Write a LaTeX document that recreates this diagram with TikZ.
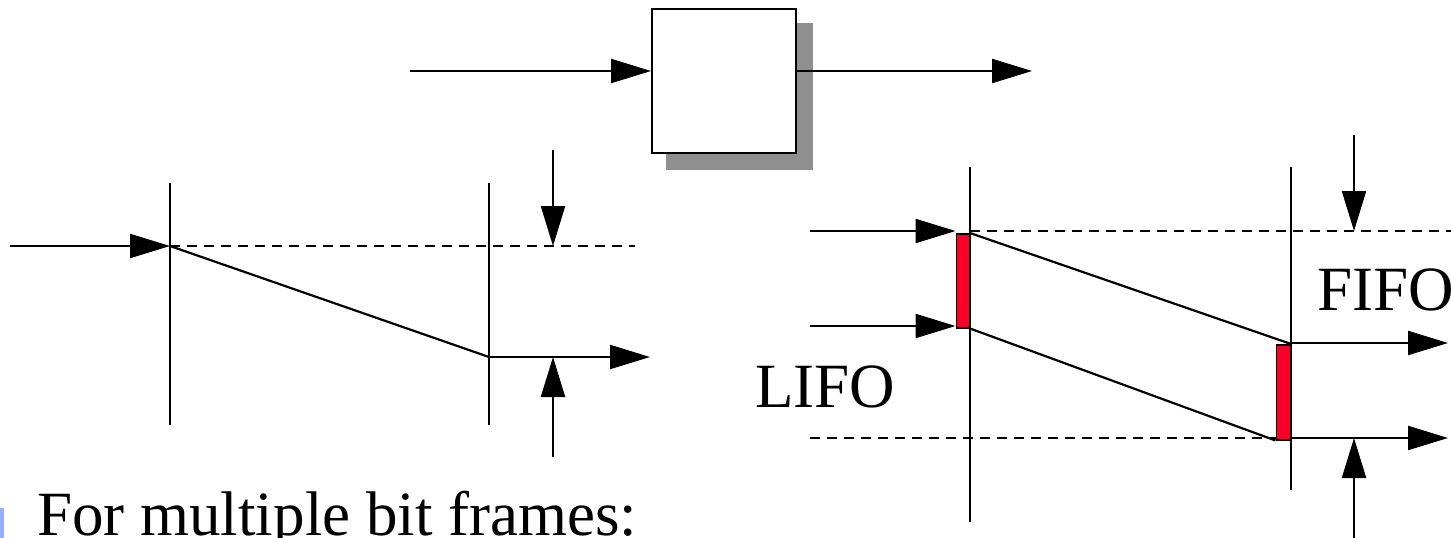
\documentclass[tikz,border=0pt]{standalone}
\usepackage{fontspec}
\setmainfont{Liberation Serif}
\usetikzlibrary{arrows.meta}
\definecolor{barred}{RGB}{250,0,40}
\definecolor{bulletblue}{RGB}{150,175,255}
\tikzset{
  ln/.style={line width=2.2pt,black},
  arr/.style={ln,-{Triangle[length=40pt,width=24pt]}},
  dsh/.style={ln,dash pattern=on 10pt off 7pt},
  redbar/.style={draw=black,line width=1.5pt,fill=barred},
  lbl/.style={font=\fontsize{63}{70}\selectfont,inner sep=0pt,anchor=base west}
}
\begin{document}
\begin{tikzpicture}[x=1pt,y=-1pt]
\useasboundingbox (0,0) rectangle (1451,538);
% top block
\fill[black!44] (666,23) rectangle (813,170);
\node[draw,line width=2.2pt,fill=white,minimum width=144pt,minimum height=144pt,inner sep=0pt,anchor=north west] (blk) at (651,8) {};
\coordinate (tin) at (410,71);
\coordinate (tout) at (1032,71);
\draw[arr] (tin) -- (blk.west|-tin);
\draw[arr] (blk.east|-tout) -- (tout);
% left diagram
\coordinate (L1t) at (170,183); \coordinate (L1b) at (170,425);
\coordinate (L2t) at (489,183); \coordinate (L2b) at (489,425);
\draw[ln] (L1t) -- (L1b);
\draw[ln] (L2t) -- (L2b);
\coordinate (Lin) at (10,246);
\coordinate (Ls) at (170,246);
\coordinate (Ld) at (635,246);
\coordinate (Le) at (489,357);
\coordinate (Lo) at (650,357);
\draw[arr] (Lin) -- (Ls);
\draw[dsh] (Ls) -- (Ld);
\draw[ln] (Ls) -- (Le);
\draw[arr] (Le) -- (Lo);
\coordinate (Lda) at (553,150); \coordinate (Ldb) at (553,246);
\coordinate (Lua) at (553,457); \coordinate (Lub) at (553,357);
\draw[arr] (Lda) -- (Ldb);
\draw[arr] (Lua) -- (Lub);
% right diagram
\coordinate (R1t) at (970,167); \coordinate (R1b) at (970,522);
\coordinate (R2t) at (1291,167); \coordinate (R2b) at (1291,490);
\draw[ln] (R1t) -- (R1b);
\draw[ln] (R2t) -- (R2b);
\node[redbar,minimum width=13pt,minimum height=94pt,inner sep=0pt,anchor=north east] (rb1) at (970,233) {};
\node[redbar,minimum width=14pt,minimum height=95pt,inner sep=0pt,anchor=north east] (rb2) at (1291,344) {};
\coordinate (Ra1) at (810,231); \coordinate (Ra2) at (810,326);
\draw[arr] (Ra1) -- (rb1.west|-Ra1);
\draw[arr] (Ra2) -- (rb1.west|-Ra2);
\coordinate (Rd1s) at (970,231); \coordinate (Rd1e) at (1451,231);
\draw[dsh] (Rd1s) -- (Rd1e);
\coordinate (Rd2s) at (810,438);
\draw[dsh] (Rd2s) -- (rb2.west|-Rd2s);
\draw[ln] (rb1.north east) -- (rb2.north east);
\draw[ln] (rb1.south east) -- (rb2.south west);
\coordinate (Ro1) at (1448,343); \coordinate (Ro2) at (1448,438);
\draw[arr] (rb2.east|-Ro1) -- (Ro1);
\draw[arr] (rb2.east|-Ro2) -- (Ro2);
\coordinate (Rda) at (1354,135); \coordinate (Rdb) at (1354,231);
\coordinate (Rua) at (1354,540); \coordinate (Rub) at (1354,438);
\draw[arr] (Rda) -- (Rdb);
\draw[arr] (Rua) -- (Rub);
% labels
\node[lbl] (fifo) at (1317,310) {FIFO};
\node[lbl] (lifo) at (755,407) {LIFO};
\node[lbl] (txt) at (37,535) {For multiple bit frames:};
\fill[bulletblue] (0,508) rectangle (4,538);
\end{tikzpicture}
\end{document}
